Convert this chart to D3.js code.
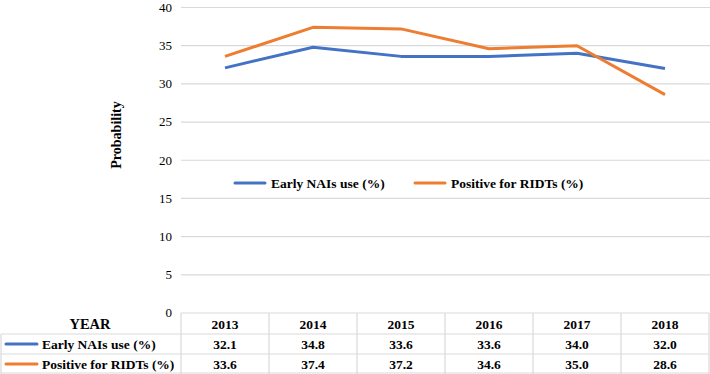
<!DOCTYPE html>
<html>
<head>
<meta charset="utf-8">
<script src="https://cdn.jsdelivr.net/npm/d3@7"></script>
<style>
  body { margin: 0; background: #fff; }
</style>
</head>
<body>
<script>
const years = ["2013", "2014", "2015", "2016", "2017", "2018"];
const seriesNames = ["Early NAIs use (%)", "Positive for RIDTs (%)"];
const earlyNAIs = [32.1, 34.8, 33.6, 33.6, 34.0, 32.0];
const positiveRIDTs = [33.6, 37.4, 37.2, 34.6, 35.0, 28.6];
const yTicks = [0, 5, 10, 15, 20, 25, 30, 35, 40];
const colors = ["#4472C4", "#ED7D31"];

function main(){
    const width = 710, height = 374;
    const left = 181, right = 709, top = 7.5, bottom = 313;
    const rowH = 20;
    const fs = "13.5px";

    const svg = d3.select("body").append("svg")
        .attr("width", width)
        .attr("height", height)
        .style("font-family", "Liberation Serif");

    const x = d3.scaleBand().domain(years).range([left, right]);
    const y = d3.scaleLinear().domain([0, 40]).range([bottom, top]);

    // gridlines
    svg.append("g").selectAll("line")
        .data(yTicks.filter(d => d > 0))
        .join("line")
        .attr("x1", left).attr("x2", right + 1)
        .attr("y1", d => y(d)).attr("y2", d => y(d))
        .attr("stroke", "#d9d9d9").attr("stroke-width", 1.2);

    // y tick labels
    svg.append("g").selectAll("text")
        .data(yTicks)
        .join("text")
        .attr("x", 172)
        .attr("y", d => y(d) + 4.3)
        .attr("text-anchor", "end")
        .attr("font-size", "13px")
        .text(d => d);

    svg.append("text")
        .attr("transform", `translate(121,135) rotate(-90)`)
        .attr("text-anchor", "middle")
        .attr("font-size", "14px")
        .attr("font-weight", "bold")
        .text("Probability");

    // lines
    const allSeries = [earlyNAIs, positiveRIDTs];
    const line = d3.line()
        .x((d, i) => x(years[i]) + x.bandwidth() / 2)
        .y(d => y(d));
    allSeries.forEach((s, k) => {
        svg.append("path")
            .datum(s)
            .attr("fill", "none")
            .attr("stroke", colors[k])
            .attr("stroke-width", 3)
            .attr("stroke-linejoin", "round")
            .attr("d", line);
    });

    // legend in plot
    const legendX = [235, 415];
    seriesNames.forEach((name, k) => {
        svg.append("line")
            .attr("x1", legendX[k]).attr("x2", legendX[k] + 30)
            .attr("y1", 183).attr("y2", 183)
            .attr("stroke", colors[k]).attr("stroke-width", 3)
            .attr("stroke-linecap", "round");
        svg.append("text")
            .attr("x", legendX[k] + 36)
            .attr("y", 187.5)
            .attr("font-size", fs)
            .attr("font-weight", "bold")
            .text(name);
    });

    // data table
    const border = "#d9d9d9";
    const tg = svg.append("g");
    tg.selectAll("line.v")
        .data(years.map(d => x(d)).concat([right]))
        .join("line")
        .attr("x1", d => d).attr("x2", d => d)
        .attr("y1", bottom).attr("y2", bottom + rowH * 3 + 1)
        .attr("stroke", border).attr("stroke-width", 1.2);
    tg.append("line")
        .attr("x1", 1).attr("x2", 1)
        .attr("y1", bottom + 21).attr("y2", bottom + rowH * 3 + 1)
        .attr("stroke", border).attr("stroke-width", 1.2);
    tg.append("line")
        .attr("x1", left).attr("x2", right)
        .attr("y1", bottom).attr("y2", bottom)
        .attr("stroke", border).attr("stroke-width", 1.2);
    [bottom + 21, bottom + 41, bottom + 60].forEach(yy => {
        tg.append("line")
            .attr("x1", 1).attr("x2", right)
            .attr("y1", yy).attr("y2", yy)
            .attr("stroke", border).attr("stroke-width", 1.2);
    });

    tg.append("text")
        .attr("x", 90).attr("y", bottom + 16)
        .attr("text-anchor", "middle")
        .attr("font-size", "14.5px").attr("font-weight", "bold")
        .text("YEAR");
    tg.selectAll("text.yr")
        .data(years)
        .join("text")
        .attr("x", d => x(d) + x.bandwidth() / 2)
        .attr("y", bottom + 16)
        .attr("text-anchor", "middle")
        .attr("font-size", fs).attr("font-weight", "bold")
        .text(d => d);

    allSeries.forEach((s, k) => {
        const ry = bottom + 21 + k * 20;
        tg.append("line")
            .attr("x1", 6).attr("x2", 37)
            .attr("y1", ry + 10).attr("y2", ry + 10)
            .attr("stroke", colors[k]).attr("stroke-width", 3)
            .attr("stroke-linecap", "round");
        tg.append("text")
            .attr("x", 42).attr("y", ry + 15)
            .attr("font-size", fs).attr("font-weight", "bold")
            .text(seriesNames[k]);
        tg.selectAll(null)
            .data(s)
            .join("text")
            .attr("x", (d, i) => x(years[i]) + x.bandwidth() / 2)
            .attr("y", ry + 15)
            .attr("text-anchor", "middle")
            .attr("font-size", fs).attr("font-weight", "bold")
            .text(d => d.toFixed(1));
    });
}
main();
</script>
</body>
</html>
